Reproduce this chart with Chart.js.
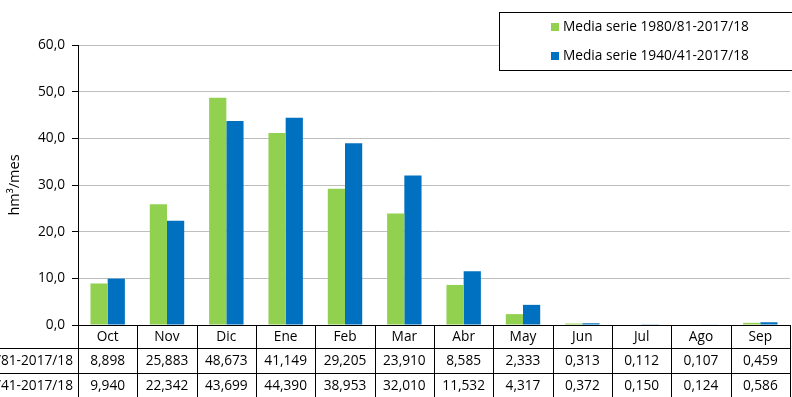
<!DOCTYPE html>
<html>
<head>
<meta charset="utf-8">
<script src="https://cdn.jsdelivr.net/npm/chart.js@4.4.1/dist/chart.umd.min.js"></script>
<style>
  body { margin: 0; background: #fff; }
  #wrap { width: 792px; height: 397px; }
</style>
</head>
<body>
<div id="wrap"><canvas id="myChart"></canvas></div>
<script>
const meses = ["Oct", "Nov", "Dic", "Ene", "Feb", "Mar", "Abr", "May", "Jun", "Jul", "Ago", "Sep"];
const serie1Nombre = "Media serie 1980/81-2017/18";
const serie2Nombre = "Media serie 1940/41-2017/18";
const serie1 = [8.898, 25.883, 48.673, 41.149, 29.205, 23.910, 8.585, 2.333, 0.313, 0.112, 0.107, 0.459];
const serie2 = [9.940, 22.342, 43.699, 44.390, 38.953, 32.010, 11.532, 4.317, 0.372, 0.150, 0.124, 0.586];
const verde = "#92D050";
const azul = "#0070C0";

const fuente = "'Open Sans', sans-serif";
const tam = 13.7;
const fmt = (v, d) => v.toFixed(d).replace(".", ",");

// tabla de datos debajo del eje
const tablaPlugin = {
  id: "tabla",
  afterDraw(chart) {
    const ctx = chart.ctx;
    const area = chart.chartArea;
    const n = meses.length;
    const w = (area.right - area.left) / n;
    const y0 = area.bottom;
    const filas = [y0, y0 + 23, y0 + 48, chart.height];
    ctx.save();
    ctx.strokeStyle = "#000";
    ctx.lineWidth = 1;
    ctx.beginPath();
    // horizontales
    ctx.moveTo(0, filas[1] + 0.5); ctx.lineTo(area.right, filas[1] + 0.5);
    ctx.moveTo(0, filas[2] + 0.5); ctx.lineTo(area.right, filas[2] + 0.5);
    // verticales
    for (let i = 0; i <= n; i++) {
      const x = Math.round(area.left + i * w) + 0.5;
      ctx.moveTo(x, y0); ctx.lineTo(x, chart.height);
    }
    ctx.stroke();

    ctx.fillStyle = "#000";
    ctx.font = tam + "px " + fuente;
    ctx.textBaseline = "middle";
    ctx.textAlign = "center";
    for (let i = 0; i < n; i++) {
      const cx = area.left + (i + 0.5) * w;
      ctx.fillText(meses[i], cx, (filas[0] + filas[1]) / 2 + 1);
      ctx.fillText(fmt(serie1[i], 3), cx, (filas[1] + filas[2]) / 2 + 1);
      ctx.fillText(fmt(serie2[i], 3), cx, (filas[2] + filas[3]) / 2 + 1);
    }
    ctx.textAlign = "right";
    ctx.fillText(serie1Nombre, area.left - 5, (filas[1] + filas[2]) / 2 + 1);
    ctx.fillText(serie2Nombre, area.left - 5, (filas[2] + filas[3]) / 2 + 1);
    ctx.restore();
  }
};

// leyenda con recuadro sobre el grafico
const leyendaPlugin = {
  id: "leyendaCaja",
  afterDraw(chart) {
    const ctx = chart.ctx;
    const bx = 499.5, by = 12.5, bw = 300, bh = 58;
    ctx.save();
    ctx.fillStyle = "#fff";
    ctx.fillRect(bx, by, bw, bh);
    ctx.strokeStyle = "#000";
    ctx.lineWidth = 1;
    ctx.strokeRect(bx, by, bw, bh);
    ctx.font = tam + "px " + fuente;
    ctx.textBaseline = "middle";
    ctx.textAlign = "left";
    const items = [[serie1Nombre, verde, 27], [serie2Nombre, azul, 56]];
    items.forEach(([txt, col, y]) => {
      ctx.fillStyle = col;
      ctx.fillRect(551, y - 4, 8, 8);
      ctx.fillStyle = "#000";
      ctx.fillText(txt, 563, y);
    });
    ctx.restore();
  }
};

const ctx = document.getElementById("myChart");
new Chart(ctx, {
  type: "bar",
  data: {
    labels: meses,
    datasets: [
      { label: serie1Nombre, data: serie1, backgroundColor: verde },
      { label: serie2Nombre, data: serie2, backgroundColor: azul },
    ],
  },
  options: {
    responsive: true,
    maintainAspectRatio: false,
    devicePixelRatio: 1,
    animation: false,
    categoryPercentage: 0.58,
    barPercentage: 1.0,
    layout: { padding: { top: 45, right: 2, left: 0, bottom: 0 } },
    plugins: {
      legend: { display: false },
      tooltip: { enabled: false },
    },
    scales: {
      x: {
        grid: { display: false },
        border: { display: true, color: "#000" },
        ticks: { display: false },
        afterFit(scale) { scale.height = 72; },
      },
      y: {
        min: 0,
        max: 60,
        ticks: {
          stepSize: 10,
          padding: 7,
          color: "#000",
          font: { family: fuente, size: tam },
          callback: (v) => fmt(v, 1),
        },
        grid: { color: "#BFBFBF", tickColor: "#000", tickLength: 6 },
        border: { color: "#000" },
        title: {
          display: true,
          text: "hm³/mes",
          color: "#000",
          font: { family: fuente, size: 14.5 },
          padding: { top: 6, bottom: 0 },
        },
        afterFit(scale) { scale.width = 78; },
      },
    },
  },
  plugins: [tablaPlugin, leyendaPlugin],
});
</script>
</body>
</html>
